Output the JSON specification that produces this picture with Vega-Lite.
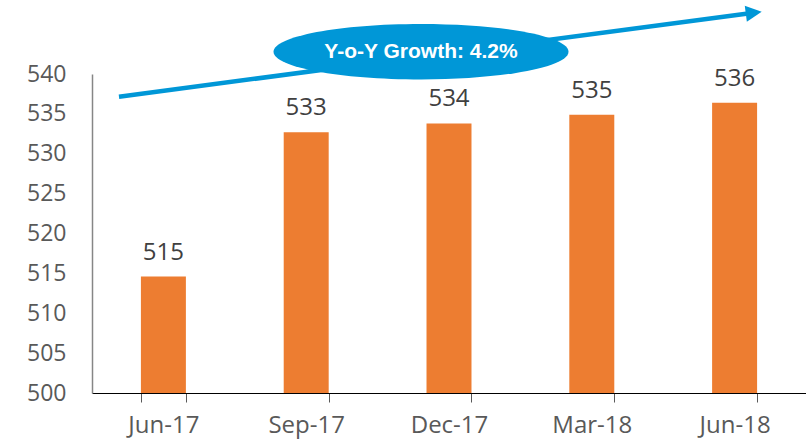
{
  "$schema": "https://vega.github.io/schema/vega-lite/v6.json",
  "width": 714,
  "height": 319,
  "autosize": {"type": "none"},
  "padding": {"left": 92, "top": 74, "right": 0, "bottom": 47},
  "background": "white",
  "config": {"view": {"stroke": null}, "font": "Open Sans"},
  "datasets": {
    "bars": [
      {"period": "Jun-17", "value": 514.6},
      {"period": "Sep-17", "value": 532.7},
      {"period": "Dec-17", "value": 533.8},
      {"period": "Mar-18", "value": 534.9},
      {"period": "Jun-18", "value": 536.4}
    ],
    "arrow": [
      {"pos": 0.189, "value": 537.15},
      {"pos": 4.634, "value": 547.68}
    ],
    "head": [
      {"pos": 4.634, "value": 547.68}
    ],
    "badge": [
      {"pos": 2.304, "value": 542.8, "label": "Y-o-Y Growth: 4.2%"}
    ]
  },
  "encoding": {
    "y": {
      "field": "value",
      "type": "quantitative",
      "scale": {"domain": [500, 540], "nice": false, "zero": false},
      "axis": {
        "title": null,
        "values": [500, 505, 510, 515, 520, 525, 530, 535, 540],
        "labelOverlap": false,
        "labelFont": "Open Sans",
        "labelFontSize": 23,
        "labelColor": "#595959",
        "labelPadding": 26,
        "ticks": false,
        "tickSize": 0,
        "domainColor": "#868686",
        "domainWidth": 1.5,
        "grid": false
      }
    }
  },
  "resolve": {"scale": {"x": "independent"}},
  "layer": [
    {
      "data": {"name": "bars"},
      "encoding": {
        "x": {
          "field": "period",
          "type": "nominal",
          "sort": null,
          "scale": {"paddingInner": 0.685, "paddingOuter": 0.3425},
          "axis": {
            "title": null,
            "labelAngle": 0,
            "labelFont": "Open Sans",
            "labelFontSize": 24,
            "labelColor": "#595959",
            "labelPadding": 11,
            "tickBand": "extent",
            "ticks": true,
            "tickSize": 9,
            "tickColor": "#595959",
            "tickWidth": 1,
            "domainColor": "#000000",
            "domainWidth": 1,
            "grid": false
          }
        }
      },
      "layer": [
        {
          "mark": {"type": "bar", "color": "#ED7D31"},
          "encoding": {"y2": {"datum": 500}}
        },
        {
          "mark": {"type": "text", "font": "Open Sans", "fontSize": 24, "color": "#404040", "baseline": "alphabetic", "dy": -17},
          "encoding": {"text": {"field": "value", "type": "quantitative", "format": ".0f"}}
        }
      ]
    },
    {
      "layer": [
        {
          "data": {"name": "arrow"},
          "mark": {"type": "line", "color": "#0097D7", "strokeWidth": 4.5, "strokeCap": "butt", "clip": false},
          "encoding": {
            "x": {"field": "pos", "type": "quantitative", "scale": {"domain": [0, 5], "nice": false, "zero": false}, "axis": null}
          }
        },
        {
          "data": {"name": "head"},
          "mark": {"type": "point", "shape": "M 1 0 L -1 -1 L -1 1 Z", "size": 256, "filled": true, "opacity": 1, "color": "#0097D7", "angle": 352.47, "clip": false},
          "encoding": {
            "x": {"field": "pos", "type": "quantitative", "scale": {"domain": [0, 5], "nice": false, "zero": false}, "axis": null}
          }
        },
        {
          "data": {"name": "badge"},
          "mark": {"type": "point", "shape": "M 1 0 C 1 0.1038 0.5523 0.188 0 0.188 C -0.5523 0.188 -1 0.1038 -1 0 C -1 -0.1038 -0.5523 -0.188 0 -0.188 C 0.5523 -0.188 1 -0.1038 1 0 Z", "size": 87025, "filled": true, "opacity": 1, "color": "#0097D7", "clip": false},
          "encoding": {
            "x": {"field": "pos", "type": "quantitative", "scale": {"domain": [0, 5], "nice": false, "zero": false}, "axis": null}
          }
        },
        {
          "data": {"name": "badge"},
          "mark": {"type": "text", "font": "Liberation Sans", "fontWeight": "bold", "fontSize": 21, "color": "#FFFFFF", "baseline": "middle", "align": "center", "clip": false},
          "encoding": {
            "x": {"field": "pos", "type": "quantitative", "scale": {"domain": [0, 5], "nice": false, "zero": false}, "axis": null},
            "text": {"field": "label", "type": "nominal"}
          }
        }
      ]
    }
  ]
}
